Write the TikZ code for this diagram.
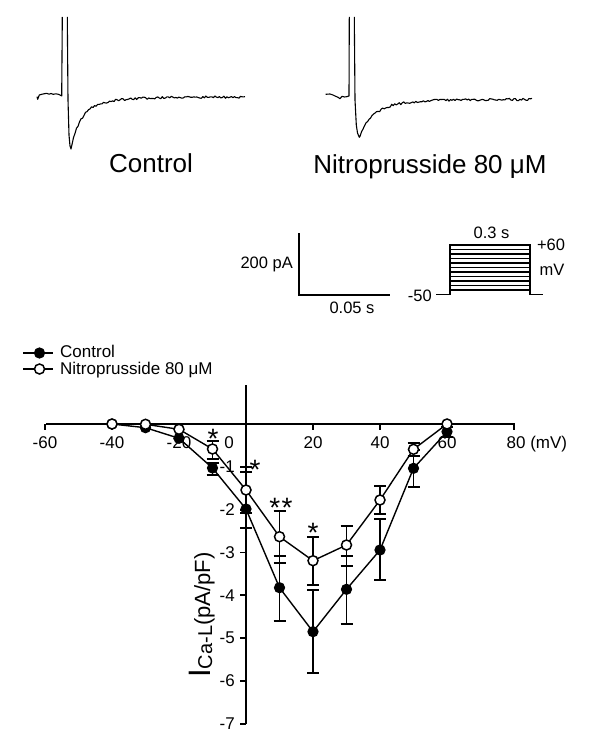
\documentclass[tikz,border=0pt]{standalone}
\usepackage{fontspec}
\setmainfont{Liberation Sans}
\begin{document}
\begin{tikzpicture}[x=1pt,y=-1pt,
  axis/.style={line width=2pt},
  tick/.style={line width=1.8pt},
  conn/.style={line width=1.4pt},
  ebar/.style={line width=1.4pt},
  trace/.style={line width=1.1pt, line join=round},
  bar/.style={line width=2pt},
  proto/.style={line width=1.3pt},
  filledpt/.style={circle, fill=black, draw=black, line width=1.2pt, minimum size=10pt, inner sep=0},
  openpt/.style={circle, fill=white, draw=black, line width=1.5pt, minimum size=10pt, inner sep=0},
  lbl/.style={font=\fontsize{17}{17}\selectfont, inner sep=0},
  small/.style={font=\fontsize{16.5}{16.5}\selectfont, inner sep=0},
  big/.style={font=\fontsize{26}{26}\selectfont, inner sep=0},
  star/.style={font=\fontsize{28}{28}\selectfont, inner sep=0, anchor=base}]
\useasboundingbox (0,0) rectangle (600,754);
\pgfmathsetseed{5}

% ---- traces ----
\draw[trace] (37,96.7) -- (37.7,99.3) -- (39.3,95) -- (41.7,94.3) -- (44,93.8) -- (46.7,93.3) -- (49,94.2) -- (51,93.5) -- (53.3,94.3) -- (56,93.8) -- (58.3,94.3) -- (60,95) -- (61.7,96) -- (62.3,17);
\draw[trace] (67.3,17) -- (68,100) -- (69,135) -- (70,146) -- (71,149)
  -- plot[domain=72:245,samples=116] (\x,{97+38*exp(-(\x-71)/9)+14*exp(-(\x-71)/30)+1.2*rand});
\draw[trace] (325.7,94.3) -- (330,94) -- (333,95) -- (335,96) -- (338,97.3) -- (340,98.7) -- (342,96.3) -- (344.5,97) -- (346.7,96.7) -- (349,96) -- (349.3,17);
\draw[trace] (354.3,17) -- (355,100) -- (356.3,125) -- (357.5,133) -- (359.3,137.3)
  -- plot[domain=360:532,samples=115] (\x,{99.5+24*exp(-(\x-359)/12)+14*exp(-(\x-359)/28)+1.2*rand});
\node[big, anchor=base] (tc) at (151,172.7) {Control};
\node[big, anchor=base] (tn) at (430,173.3) {Nitroprusside 80 μM};

% ---- scale bars ----
\coordinate (sbt) at (299,233);
\coordinate (sbc) at (299,295);
\coordinate (sbr) at (390,295);
\draw[bar] (sbt) -- (sbc) -- (sbr);
\node[small, anchor=base east] (pa) at (293,268) {200 pA};
\node[small, anchor=base] (ms) at (352,313.3) {0.05 s};

% ---- protocol ----
\coordinate (p0) at (436,294.5);
\coordinate (p1) at (450,294.5);
\coordinate (p2) at (530,294.5);
\coordinate (p3) at (543,294.5);
\draw[proto] (p0) -- (p1) -- (450,245) -- (530,245) -- (p2) -- (p3);
\foreach \k in {1,...,10} {\draw[proto] (450,{294.5-4.5*\k}) -- (530,{294.5-4.5*\k});}
\node[small, anchor=base east] (m50) at (432,301.7) {-50};
\node[small, anchor=base] (t03) at (491.5,238.3) {0.3 s};
\node[small, anchor=base] (p60) at (551,250) {+60};
\node[small, anchor=base] (mv) at (552,275) {mV};

% ---- legend ----
\coordinate (l1a) at (23,353); \coordinate (l1b) at (53,353);
\coordinate (l2a) at (23,369); \coordinate (l2b) at (53,369);
\draw[axis] (l1a) -- (l1b);
\draw[axis] (l2a) -- (l2b);
\node[filledpt] (lf) at (39.5,353) {};
\node[openpt] (lo) at (39.5,369) {};
\node[lbl, anchor=base west] (lct) at (60,357.3) {Control};
\node[lbl, anchor=base west] (lnt) at (60,374) {Nitroprusside 80 μM};

% ---- axes ----
\coordinate (xa) at (46,424); \coordinate (xb) at (515,424);
\coordinate (ya) at (246,385); \coordinate (yb) at (246,723.6);
\draw[axis] (xa) -- (xb);
\draw[axis] (ya) -- (yb);
\foreach \v in {-60,-40,-20,20,40,60,80} {\draw[tick] ({246+3.35*\v},424) -- ({246+3.35*\v},430);}
\foreach \v in {1,...,7} {\draw[tick] (240,{424+42.8*\v}) -- (246,{424+42.8*\v});}
\foreach \v/\t in {-60/-60,-40/-40,-20/-20,20/20,40/40,60/60} {\node[lbl, anchor=base] (x\t) at ({246+3.35*\v},448.5) {\t};}
\node[lbl, anchor=base] (x0) at (229,448.5) {0};
\node[lbl, anchor=base west] (x80) at (506.5,448.5) {80 (mV)};
\foreach \v in {1,...,7} {\node[lbl, anchor=east] (y\v) at (235,{424+42.8*\v}) {-\v};}
\node[rotate=90, anchor=base, inner sep=0] (ylab) at (210,615) {\fontsize{31}{31}\selectfont I\fontsize{20}{20}\selectfont\raisebox{-2pt}{Ca-L}\fontsize{22}{22}\selectfont(pA/pF)};

% ---- error bars ----
\foreach \xx/\ya/\yb in {212.5/463/475, 246/472/528, 279.5/556/621, 313/590/673, 346.5/556/624, 380/519/580, 413.5/450/487, 447/427/437,
                         212.5/441/459, 246/467/513, 279.5/511/563, 313/537/585, 346.5/526/566, 380/486/514, 413.5/443/456}
  {\draw[ebar] (\xx-6,\ya) -- (\xx+6,\ya) (\xx,\ya) -- (\xx,\yb) (\xx-6,\yb) -- (\xx+6,\yb);}

% ---- data ----
\coordinate (f1) at (112,424);   \coordinate (o1) at (112,424);
\coordinate (f2) at (145.5,427.7); \coordinate (o2) at (145.5,424.3);
\coordinate (f3) at (179,438.3); \coordinate (o3) at (179,429.3);
\coordinate (f4) at (212.5,468); \coordinate (o4) at (212.5,449);
\coordinate (f5) at (246,509);   \coordinate (o5) at (246,490);
\coordinate (f6) at (279.5,587.7); \coordinate (o6) at (279.5,536.7);
\coordinate (f7) at (313,631.7); \coordinate (o7) at (313,560.7);
\coordinate (f8) at (346.5,589.3); \coordinate (o8) at (346.5,545);
\coordinate (f9) at (380,550);   \coordinate (o9) at (380,500);
\coordinate (f10) at (413.5,468.3); \coordinate (o10) at (413.5,449.3);
\coordinate (f11) at (447,431.7); \coordinate (o11) at (447,424);
\draw[conn] (f1) -- (f2) -- (f3) -- (f4) -- (f5) -- (f6) -- (f7) -- (f8) -- (f9) -- (f10) -- (f11);
\draw[conn] (o1) -- (o2) -- (o3) -- (o4) -- (o5) -- (o6) -- (o7) -- (o8) -- (o9) -- (o10) -- (o11);
\foreach \i in {1,...,11} {\node[filledpt] (mf\i) at (f\i) {};}
\foreach \i in {1,...,11} {\node[openpt] (mo\i) at (o\i) {};}

% ---- significance ----
\node[star] (s1) at (213,448) {*};
\node[star] (s2) at (255,479.5) {*};
\node[star] (s3) at (281,517.5) {*\kern1.5pt*};
\node[star] (s4) at (313,542.5) {*};
\end{tikzpicture}
\end{document}
